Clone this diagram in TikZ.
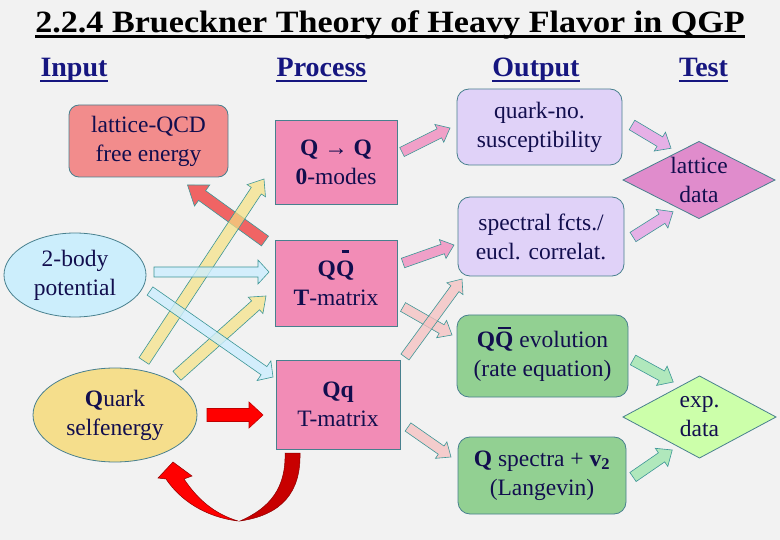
\documentclass[tikz,border=0pt]{standalone}
\usepackage{fontspec}
\setmainfont{Liberation Serif}
\usepackage{graphicx}
\usepackage{tikz}
\usetikzlibrary{calc}
\usetikzlibrary{shapes.geometric}

\definecolor{bgray}{RGB}{242,242,242}
\definecolor{ink}{RGB}{18,14,78}
\definecolor{navy}{RGB}{22,22,128}
\definecolor{edge}{RGB}{72,128,142}
\definecolor{arrowedge}{RGB}{60,150,150}
\definecolor{lqcdred}{RGB}{242,140,140}
\definecolor{potblue}{RGB}{204,238,252}
\definecolor{quarkyel}{RGB}{245,222,140}
\definecolor{procpink}{RGB}{242,140,182}
\definecolor{lavender}{RGB}{224,210,248}
\definecolor{latpink}{RGB}{224,140,204}
\definecolor{evolgreen}{RGB}{146,208,146}
\definecolor{expgreen}{RGB}{204,255,170}
\definecolor{redarrow}{RGB}{240,100,100}
\definecolor{yelarrow}{RGB}{245,225,130}
\definecolor{bluearrow}{RGB}{204,238,255}
\definecolor{pinkarrow}{RGB}{240,160,200}
\definecolor{rosearrow}{RGB}{246,192,192}
\definecolor{lavarrow}{RGB}{230,176,230}
\definecolor{greenarrow}{RGB}{176,232,188}
\definecolor{darkred}{RGB}{200,0,0}

\tikzset{
	shaft/.store in=\shaftw, head/.store in=\headw, headlen/.store in=\headl,
	shaft=5pt, head=10pt, headlen=12pt,
	fat/.style={draw=arrowedge, line width=0.6pt, line join=miter},
	txt/.style={font=\fontsize{23.5}{29}\selectfont, text=ink, align=center, inner sep=0pt, outer sep=0pt},
	procbox/.style={txt, rectangle, draw=edge, line width=0.8pt, fill=procpink},
	outbox/.style={txt, rectangle, rounded corners=12pt, draw=edge, line width=0.8pt},
	inell/.style={txt, ellipse, draw=edge, line width=0.8pt},
	testdia/.style={diamond, draw=edge, line width=0.8pt, inner sep=0pt, outer sep=0pt},
	header/.style={font=\bfseries\fontsize{28}{28}\selectfont, text=navy, anchor=base, inner sep=0pt},
}

% block arrow from tail #2 to tip #3
\newcommand{\fatarrow}[3][]{%
	\begin{scope}[#1]
	\path #2 coordinate (fa-t) #3 coordinate (fa-h);
	\path ($(fa-h)!\headl!(fa-t)$) coordinate (fa-b);
	\filldraw[fat,#1] ($(fa-t)!\shaftw!90:(fa-h)$) -- ($(fa-b)!\shaftw!-90:(fa-t)$)
		-- ($(fa-b)!\headw!-90:(fa-t)$) -- (fa-h) -- ($(fa-b)!\headw!90:(fa-t)$)
		-- ($(fa-b)!\shaftw!90:(fa-t)$) -- ($(fa-t)!\shaftw!-90:(fa-h)$) -- cycle;
	\end{scope}}
\newcommand{\qbar}[2]{\ooalign{Q\cr\hidewidth\rule[#2]{#1}{0.1em}\hidewidth\cr}}

\begin{document}
\begin{tikzpicture}[x=1pt, y=-1pt]
	\fill[bgray] (0,0) rectangle (780,540);
	\useasboundingbox (0,0) rectangle (780,540);
	%
	\node[font=\bfseries\fontsize{31}{31}\selectfont, anchor=base, inner sep=0pt] (title) at (390,33)
		{\scalebox{1.1}[1]{2.2.4 Brueckner Theory of Heavy Flavor in QGP}};
	\draw[line width=2.2pt] ([yshift=-3.5pt]title.base west) -- ([yshift=-3.5pt]title.base east);
	\foreach \n/\x/\t in {hin/74/Input, hproc/321.5/Process, hout/536/Output, htest/703.5/Test}{
		\node[header] (\n) at (\x,77) {\t};
		\draw[navy, line width=1.6pt] ([yshift=-4pt]\n.base west) -- ([yshift=-4pt]\n.base east);
	}
	%
	\node[outbox, rounded corners=10pt, fill=lqcdred, minimum width=159, minimum height=72] (lqcd) at (148.5,141) {lattice-QCD\\free energy};
	\node[inell, fill=potblue, minimum width=142, minimum height=84] (pot) at (75,275) {2-body\\potential};
	\node[inell, fill=quarkyel, minimum width=164, minimum height=94] (quark) at (115,415) {\textbf{Q}uark\\selfenergy};
	%
	\node[procbox, minimum width=122, minimum height=84] (qq) at (336,162) {\textbf{Q → Q}\\\textbf{0}-modes};
	\node[procbox, minimum width=122, minimum height=86] (qqbar) at (336,283) {\textbf{Q\qbar{0.3em}{1em}}\\\textbf{T}-matrix};
	\node[procbox, minimum width=124, minimum height=89] (ql) at (338,404.5) {\textbf{Qq}\\T-matrix};
	%
	\node[outbox, fill=lavender, minimum width=165, minimum height=76] (susc) at (539.5,127) {quark-no.\\susceptibility};
	\node[outbox, fill=lavender, minimum width=166, minimum height=79] (spec) at (541,236.5) {spectral fcts./\\eucl. correlat.};
	\node[outbox, fill=evolgreen, minimum width=171, minimum height=82] (evol) at (542.5,356) {\textbf{Q\qbar{0.55em}{0.76em}} evolution\\(rate equation)};
	\node[outbox, fill=evolgreen, minimum width=168, minimum height=77] (lang) at (542,475.5) {\textbf{Q} spectra + \textbf{v\textsubscript{2}}\\(Langevin)};
	%
	\node[testdia, fill=latpink, minimum width=152, minimum height=77] (lat) at (699,180) {};
	\node[txt] (lattext) at (lat) {lattice\\data};
	\node[testdia, fill=expgreen, minimum width=153, minimum height=82] (exp) at (699.5,417) {};
	\node[txt] (exptext) at (exp) {exp.\\data};
	%
	\fatarrow[fill=redarrow, shaft=6pt, head=13pt, headlen=18pt]{($(qqbar.north west)+(-10,1)$)}{($(lqcd.south)+(39,8)$)}
	\fatarrow[fill=yelarrow, fill opacity=.7, shaft=6pt, head=11pt, headlen=14pt]{($(quark.north)+(29,-7)$)}{($(qq.west)+(-11,17)$)}
	\fatarrow[fill=yelarrow, fill opacity=.7, shaft=6pt, head=11pt, headlen=14pt]{($(quark.north east)+(4,-6)$)}{($(qqbar.west)+(-9,13)$)}
	\fatarrow[fill=bluearrow, fill opacity=.8, shaft=5pt, head=12pt, headlen=11pt]{($(pot.east)+(8,-3)$)}{($(qqbar.west)+(-6,-11)$)}
	\fatarrow[fill=bluearrow, fill opacity=.8, shaft=5pt, head=12pt, headlen=11pt]{($(pot.east)+(4,16)$)}{($(ql.north west)+(-3,17)$)}
	\fatarrow[fill=red, draw=red!75!black, shaft=6.5pt, head=13pt, headlen=14pt]{($(quark.east)+(10,0)$)}{($(ql.west)+(-13,10.5)$)}
	%
	\fatarrow[fill=pinkarrow, shaft=5pt, head=10pt, headlen=12pt]{($(qq.east)+(5,-10)$)}{($(susc.west)+(-7,1)$)}
	\fatarrow[fill=pinkarrow, shaft=5pt, head=10pt, headlen=12pt]{($(qqbar.east)+(6,-20)$)}{($(spec.west)+(-4,8.5)$)}
	\fatarrow[fill=rosearrow, fill opacity=.75, shaft=5pt, head=10pt, headlen=12pt]{($(qqbar.east)+(6,24)$)}{($(evol.west)+(-5,-21)$)}
	\fatarrow[fill=rosearrow, fill opacity=.75, shaft=5pt, head=10pt, headlen=12pt]{($(ql.north east)+(5,-3)$)}{($(spec.south west)+(4,3)$)}
	\fatarrow[fill=rosearrow, fill opacity=.75, shaft=5pt, head=10pt, headlen=12pt]{($(ql.east)+(8,22.5)$)}{($(lang.west)+(-7,-18.5)$)}
	%
	\fatarrow[fill=lavarrow, shaft=5.5pt, head=11pt, headlen=13pt]{($(susc.east)+(10,-2)$)}{($(lat.north west)+(10,-12.5)$)}
	\fatarrow[fill=lavarrow, shaft=5.5pt, head=11pt, headlen=13pt]{($(spec.east)+(9,0.5)$)}{($(lat.south west)+(12,12.5)$)}
	\fatarrow[fill=greenarrow, shaft=5.5pt, head=11pt, headlen=13pt]{($(evol.east)+(5,4)$)}{($(exp.north west)+(12,-14.5)$)}
	\fatarrow[fill=greenarrow, shaft=5.5pt, head=11pt, headlen=13pt]{($(lang.east)+(7,1.5)$)}{($(exp.south west)+(11,12.5)$)}
	%
	% feedback Qq -> selfenergy
	\path ($(ql.south)+(-38,4)$) coordinate (fb-top) ($(quark.south)+(58,0)$) coordinate (fb-tip);
	\filldraw[darkred, draw=red!55!black, line width=0.5pt, shift={(fb-top)}] (0,0) .. controls (1,39) and (-18,62) .. (-60,68)
		.. controls (-30,55) and (-14,35) .. (-15,0) -- cycle;
	\filldraw[red, draw=red!55!black, line width=0.5pt, shift={(fb-tip)}] (65,59) .. controls (32,55) and (7,38) .. (-7,17)
		-- (-15,16) -- (0,0) -- (19,14) -- (11,17) .. controls (25,38) and (42,52) .. (65,59) -- cycle;
\end{tikzpicture}
\end{document}
